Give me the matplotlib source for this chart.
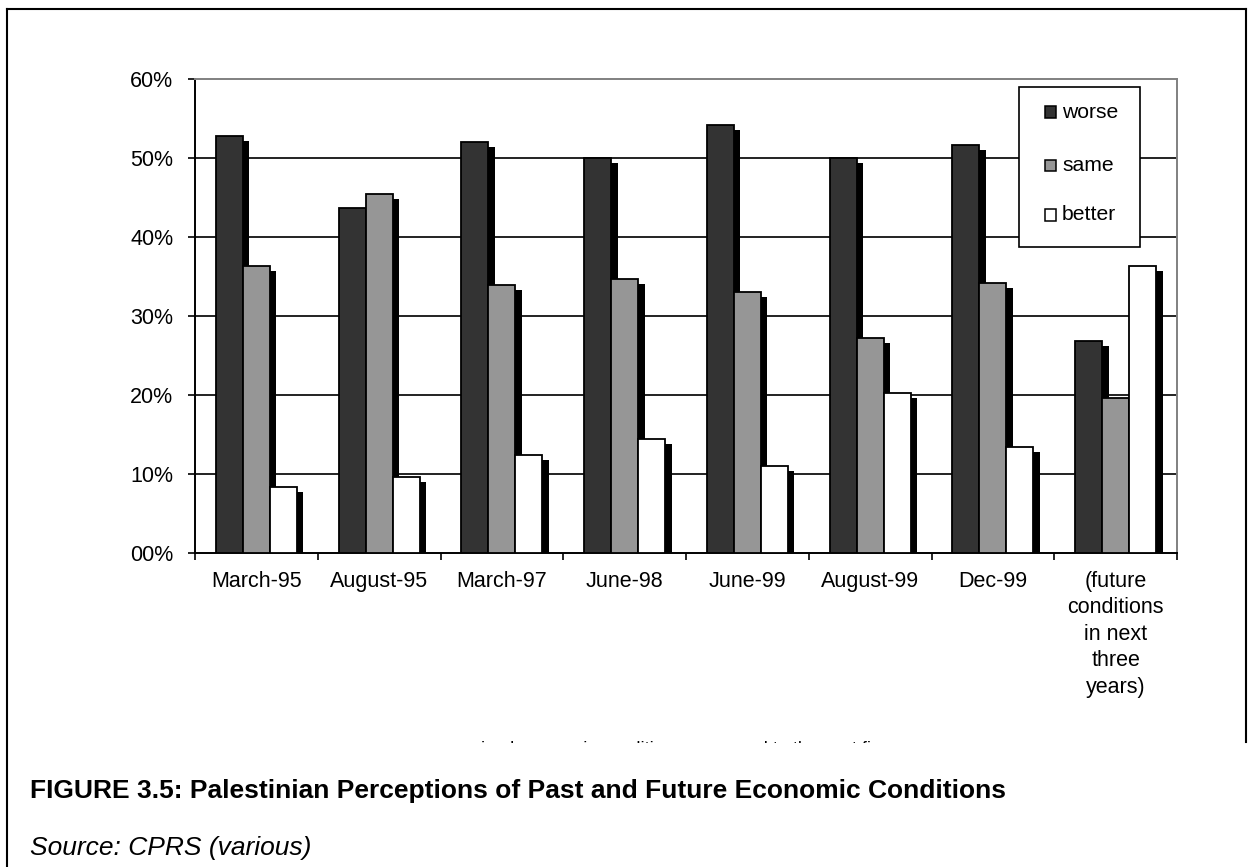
import matplotlib
matplotlib.use("Agg")
import matplotlib.pyplot as plt
from matplotlib.patches import Rectangle
from matplotlib.lines import Line2D
from matplotlib.ticker import FixedLocator, FuncFormatter
import matplotlib.transforms as mtransforms

plt.rcParams['font.family'] = ['Liberation Sans', 'DejaVu Sans']

# Survey rounds and share of respondents (%)
categories = ["March-95", "August-95", "March-97", "June-98", "June-99",
              "August-99", "Dec-99",
              "(future\nconditions\nin next\nthree\nyears)"]
worse = [52.8, 43.7, 52.0, 50.0, 54.2, 50.0, 51.7, 26.8]
same = [36.3, 45.4, 34.0, 34.7, 33.0, 27.2, 34.2, 19.7]
better = [8.4, 9.7, 12.4, 14.4, 11.1, 20.3, 13.4, 36.4]
series_names = ["worse", "same", "better"]
y_ticks = [0, 10, 20, 30, 40, 50, 60]

W, H = 1250, 867
fig = plt.figure(figsize=(W / 100, H / 100), dpi=100)


def fx(x):
    return x / W


def fy(y):
    return 1 - y / H


ax = fig.add_axes([fx(195), fy(553.3), fx(1177) - fx(195), fy(79) - fy(553.3)])

colors = ["#333333", "#969696", "#ffffff"]
bar_w = 0.22
offsets = [-bar_w, 0.0, bar_w]
shadow = mtransforms.offset_copy(ax.transData, fig=fig, x=6.5, y=-5, units='dots')

xs = list(range(len(categories)))
for k, (vals, col) in enumerate(zip([worse, same, better], colors)):
    pos = [x + offsets[k] for x in xs]
    ax.bar(pos, vals, width=bar_w, color="black", linewidth=0,
           transform=shadow, zorder=3 + 2 * k)
    ax.bar(pos, vals, width=bar_w, color=col, edgecolor="black",
           linewidth=1.3, zorder=4 + 2 * k, label=series_names[k])

ax.set_xlim(-0.5, len(categories) - 0.5)
ax.set_ylim(0, 60)

# horizontal gridlines
for t in y_ticks[1:-1]:
    ax.axhline(t, color="#222222", linewidth=1.4, zorder=1)

for s in ["top", "right"]:
    ax.spines[s].set_color("#808080")
    ax.spines[s].set_linewidth(1.4)
for s in ["left", "bottom"]:
    ax.spines[s].set_color("black")
    ax.spines[s].set_linewidth(1.4)

ax.yaxis.set_major_locator(FixedLocator(y_ticks))
ax.yaxis.set_major_formatter(FuncFormatter(lambda v, p: "%02d%%" % round(v)))
ax.tick_params(axis='y', direction='out', length=5, width=1.2,
               labelsize=15.5, pad=10.5, colors="black")

ax.set_xticks(xs)
ax.set_xticklabels(categories, fontsize=15.5, linespacing=1.35, va="top")
ax.tick_params(axis='x', which='major', length=0, pad=12.5)
ax.set_xticks([x - 0.5 for x in xs] + [len(xs) - 0.5], minor=True)
ax.tick_params(axis='x', which='minor', direction='out', length=5, width=1.2)

# legend box
fig.patches.append(Rectangle((fx(1019), fy(246.7)), fx(1140) - fx(1019),
                             fy(86.7) - fy(246.7), transform=fig.transFigure,
                             facecolor="white", edgecolor="black",
                             linewidth=1.2, zorder=20))
leg_y = [112, 165.5, 215]
for name, col, yy in zip(series_names, colors, leg_y):
    fig.patches.append(Rectangle((fx(1044.5), fy(yy + 5.5)), fx(11), 11 / H,
                                 transform=fig.transFigure, facecolor=col,
                                 edgecolor="black", linewidth=1.1, zorder=21))
    fig.text(fx(1062), fy(yy), name, fontsize=15.2, va="center", ha="left",
             zorder=22)

# axis title of the embedded chart, cut off by the chart frame
clip_box = Rectangle((fx(300), fy(742.5)), fx(700), 1.6 / H,
                     transform=fig.transFigure, visible=False)
fig.patches.append(clip_box)
t = fig.text(fx(687), fy(741), "perceived economic conditions compared to the past five years",
             fontsize=13, ha="center", va="top", color="black")
t.set_clip_path(clip_box)

# frame of the chart object
fig.add_artist(Line2D([fx(7), fx(7)], [fy(9), 0], transform=fig.transFigure,
                      color="black", linewidth=1.5))
fig.add_artist(Line2D([fx(7), fx(1246)], [fy(9), fy(9)], transform=fig.transFigure,
                      color="black", linewidth=1.5))
fig.add_artist(Line2D([fx(1246), fx(1246)], [fy(9), fy(742)], transform=fig.transFigure,
                      color="black", linewidth=1.5))

fig.text(fx(30), fy(791), "FIGURE 3.5: Palestinian Perceptions of Past and Future Economic Conditions",
         fontsize=19, fontweight="bold", ha="left", va="center")
fig.text(fx(30), fy(848), "Source: CPRS (various)", fontsize=19,
         fontstyle="italic", ha="left", va="center")

fig.savefig("out.png", dpi=100)
